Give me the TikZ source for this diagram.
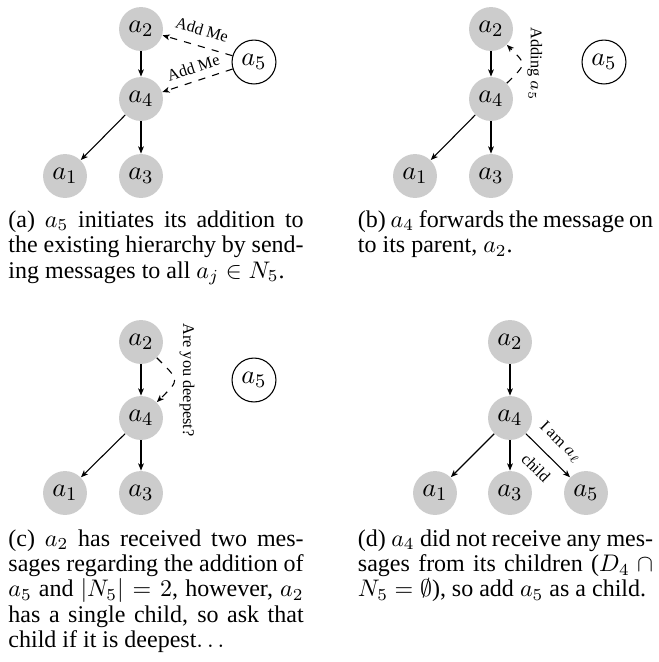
\documentclass[tikz,border=0pt]{standalone}
\usepackage{fontspec}
\setmainfont{Liberation Serif}
\usetikzlibrary{arrows.meta}

\begin{document}
\begin{tikzpicture}[x=0.41667pt, y=-0.41667pt,
  agent/.style={circle, fill=black!20, minimum size=18.3pt, inner sep=0pt,
    font=\fontsize{10.95}{13}\selectfont},
  newagent/.style={circle, draw, line width=0.45pt, minimum size=18.3pt, inner sep=0pt,
    font=\fontsize{10.95}{13}\selectfont},
  link/.style={-{Stealth[length=3pt,width=2.4pt,inset=0.8pt]}, line width=0.45pt},
  msg/.style={link, dashed},
  msglabel/.style={font=\fontsize{6.8}{8}\selectfont, inner sep=1pt},
  subcap/.style={text width=123pt, align=justify, inner sep=0pt, anchor=base west,
    font=\fontsize{10}{10.6}\selectfont}
]
\useasboundingbox (0,0) rectangle (658,662);

% ---------- (a) a5 announces itself ----------
\node[agent] (Aa2) at (141,29) {$a_2$};
\node[agent] (Aa4) at (141,99) {$a_4$};
\node[agent] (Aa1) at (65,176) {$a_1$};
\node[agent] (Aa3) at (141,176) {$a_3$};
\node[newagent] (Aa5) at (254,62) {$a_5$};
\draw[link] (Aa2) -- (Aa4);
\draw[link] (Aa4) -- (Aa1);
\draw[link] (Aa4) -- (Aa3);
\draw[msg] (Aa5) -- node[msglabel, sloped, above=3.2pt] {Add Me} (Aa2);
\draw[msg] (Aa5) -- node[msglabel, sloped, above=2pt] {Add Me} (Aa4);
\node[subcap] (Acap) at (8,227.3) {(a) $a_5$ initiates its addition to the existing hierarchy by sending messages to all $a_j \in N_5$.};

% ---------- (b) a4 forwards to its parent ----------
\node[agent] (Ba2) at (491,29) {$a_2$};
\node[agent] (Ba4) at (491,99) {$a_4$};
\node[agent] (Ba1) at (415,176) {$a_1$};
\node[agent] (Ba3) at (491,176) {$a_3$};
\node[newagent] (Ba5) at (604,62) {$a_5$};
\draw[link] (Ba2) -- (Ba4);
\draw[link] (Ba4) -- (Ba1);
\draw[link] (Ba4) -- (Ba3);
\draw[msg] (Ba4) to[bend right=45, looseness=1.9]
  node[msglabel, rotate=-90, anchor=south, inner sep=2pt] {Adding $a_5$} (Ba2);
\node[subcap] (Bcap) at (357.5,227.3) {(b) $a_4$ forwards the message on to its parent, $a_2$.};

% ---------- (c) a2 queries its only child ----------
\node[agent] (Ca2) at (141,342) {$a_2$};
\node[agent] (Ca4) at (141,418) {$a_4$};
\node[agent] (Ca1) at (65,493) {$a_1$};
\node[agent] (Ca3) at (141,493) {$a_3$};
\node[newagent] (Ca5) at (254,380) {$a_5$};
\draw[link] (Ca2) -- (Ca4);
\draw[link] (Ca4) -- (Ca1);
\draw[link] (Ca4) -- (Ca3);
\draw[msg] (Ca2) to[bend left=45, looseness=1.9]
  node[msglabel, rotate=-90, anchor=south, inner sep=2pt] {Are you deepest?} (Ca4);
\node[subcap] (Ccap) at (8,546) {(c) $a_2$ has received two messages regarding the addition of $a_5$ and $|N_5| = 2$, however, $a_2$ has a single child, so ask that child if it is deepest$\ldots$};

% ---------- (d) a5 becomes a child of a4 ----------
\node[agent] (Da2) at (510,342) {$a_2$};
\node[agent] (Da4) at (510,418) {$a_4$};
\node[agent] (Da1) at (435,493) {$a_1$};
\node[agent] (Da3) at (510,493) {$a_3$};
\node[agent] (Da5) at (586,493) {$a_5$};
\draw[link] (Da2) -- (Da4);
\draw[link] (Da4) -- (Da1);
\draw[link] (Da4) -- (Da3);
\draw[link] (Da4) -- node[msglabel, sloped, above=3.5pt] {I am $a_\ell$}
  node[msglabel, sloped, below=3.5pt] {child} (Da5);
\node[subcap] (Dcap) at (357.5,546) {(d) $a_4$ did not receive any messages from its children ($D_4 \cap N_5 = \emptyset$), so add $a_5$ as a child.};
\end{tikzpicture}
\end{document}
